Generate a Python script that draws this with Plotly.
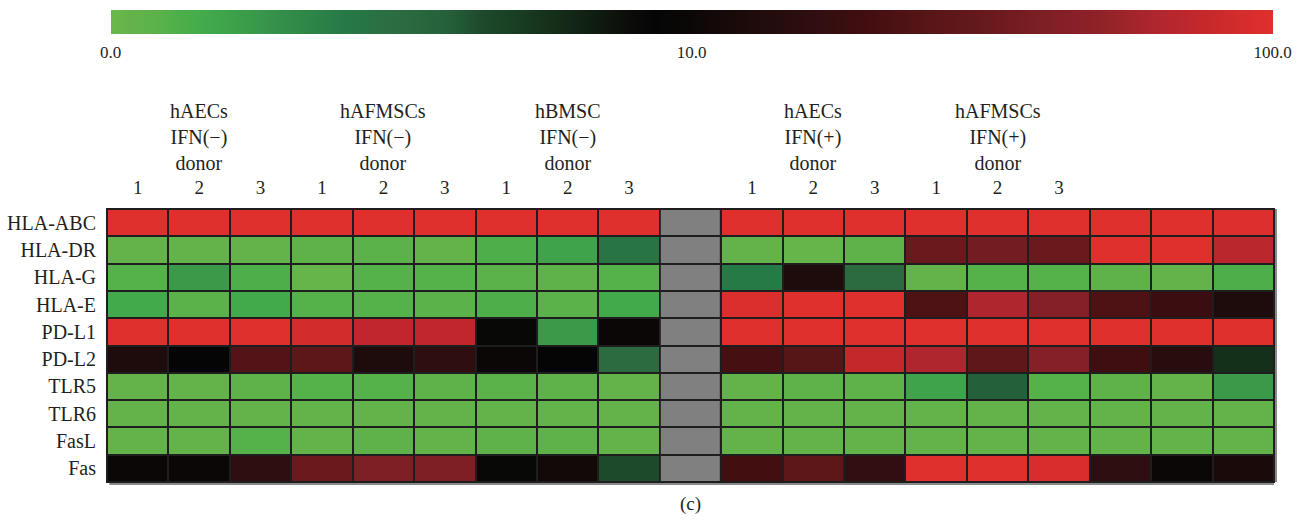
import numpy as np
import plotly.graph_objects as go

# Markers (rows, top to bottom)
genes = ["HLA-ABC", "HLA-DR", "HLA-G", "HLA-E", "PD-L1",
         "PD-L2", "TLR5", "TLR6", "FasL", "Fas"]

# Donor labels for each column block
donors = ["1", "2", "3"]

# Expression levels, IFN(-) block: hAECs 1-3, hAFMSCs 1-3, hBMSC 1-3
ifn_neg = [
    [100, 100, 100, 100, 100, 100, 100, 100, 100],        # HLA-ABC
    [1.10, 1.10, 1.10, 1.15, 1.20, 1.10, 1.32, 1.58, 2.75],  # HLA-DR
    [1.25, 1.74, 1.32, 1.05, 1.25, 1.25, 1.20, 1.15, 1.25],  # HLA-G
    [1.45, 1.20, 1.45, 1.25, 1.25, 1.20, 1.30, 1.20, 1.45],  # HLA-E
    [100, 100, 100, 87.1, 72.4, 72.4, 8.3, 1.74, 10.0],      # PD-L1
    [12.6, 8.7, 24.0, 27.5, 12.6, 15.8, 10.0, 8.7, 3.16],    # PD-L2
    [1.10, 1.10, 1.15, 1.25, 1.25, 1.15, 1.20, 1.15, 1.10],  # TLR5
    [1.10, 1.10, 1.10, 1.12, 1.12, 1.10, 1.12, 1.12, 1.10],  # TLR6
    [1.10, 1.10, 1.25, 1.10, 1.15, 1.10, 1.15, 1.15, 1.10],  # FasL
    [10.0, 10.0, 15.8, 33.1, 39.8, 39.8, 8.3, 11.0, 4.37],   # Fas
]

# Expression levels, IFN(+) block: hAECs 1-3, hAFMSCs 1-3, hBMSC 1-3
ifn_pos = [
    [100, 100, 100, 100, 100, 100, 100, 100, 97],            # HLA-ABC
    [1.10, 1.05, 1.15, 33.1, 36.3, 33.1, 100, 100, 69.2],    # HLA-DR
    [2.51, 12.6, 3.16, 1.10, 1.25, 1.25, 1.15, 1.10, 1.32],  # HLA-G
    [95.5, 100, 100, 22.9, 63.1, 43.7, 22.9, 18.2, 12.6],    # HLA-E
    [100, 100, 100, 100, 100, 100, 100, 100, 100],           # PD-L1
    [20.9, 25.1, 75.9, 63.1, 28.8, 43.7, 19.1, 14.5, 5.75],  # PD-L2
    [1.10, 1.15, 1.15, 1.58, 3.80, 1.25, 1.15, 1.10, 1.74],  # TLR5
    [1.12, 1.10, 1.10, 1.12, 1.10, 1.12, 1.12, 1.10, 1.10],  # TLR6
    [1.10, 1.12, 1.10, 1.12, 1.10, 1.12, 1.12, 1.10, 1.10],  # FasL
    [19.95, 27.5, 16.6, 100, 100, 91.2, 15.8, 10.0, 12.0],   # Fas
]

# Group headers over the donor columns
group_names = ["hAECs<br>IFN(\u2212)<br>donor", "hAFMSCs<br>IFN(\u2212)<br>donor",
               "hBMSC<br>IFN(\u2212)<br>donor", "hAECs<br>IFN(+)<br>donor",
               "hAFMSCs<br>IFN(+)<br>donor"]

# Colour bar labels (log scale)
scale_ticks = [1, 10, 100]
scale_labels = ["0.0", "10.0", "100.0"]

# ---------------------------------------------------------------------------
n_rows = len(genes)
n_neg = len(ifn_neg[0])
n_pos = len(ifn_pos[0])
sep_col = n_neg                       # grey spacer column
cols = list(range(n_neg + 1 + n_pos))

z = []
for rn, rp in zip(ifn_neg, ifn_pos):
    row = [np.log10(v) for v in rn] + [None] + [np.log10(v) for v in rp]
    z.append(row)

colorscale = [
    [0.00, "#6ab84a"], [0.02, "#63b34a"], [0.04, "#5cb24a"], [0.06, "#4caf4a"],
    [0.08, "#43aa4c"], [0.10, "#3ea34b"], [0.12, "#3a9a4a"], [0.20, "#267a46"],
    [0.25, "#2c6b40"], [0.29, "#24603a"], [0.32, "#1d4a2b"], [0.38, "#14301a"],
    [0.45, "#0a0a08"], [0.47, "#060505"], [0.50, "#0c0707"], [0.55, "#1e0b0b"],
    [0.60, "#2e0e10"], [0.65, "#420e10"], [0.70, "#561517"], [0.76, "#6a1a1d"],
    [0.80, "#7d1f25"], [0.85, "#8e2228"], [0.90, "#b0262e"], [0.94, "#c4282b"],
    [1.00, "#e0302d"],
]

font_family = "Liberation Serif"
text_color = "#231f20"

# colour-bar tick positions; the top one is nudged inside the bar range
cb_tickvals = [np.log10(t) for t in scale_ticks]
cb_tickvals[-1] -= 1e-6

fig = go.Figure()

fig.add_trace(go.Heatmap(
    z=z, x=cols, y=genes,
    zmin=0, zmax=2,
    colorscale=colorscale,
    xgap=2, ygap=2,
    hoverongaps=False,
    colorbar=dict(
        orientation="h",
        xref="container", yref="container",
        x=774 / 1306, xanchor="center",
        y=1 - 10 / 525, yanchor="top",
        lenmode="pixels", len=1162,
        thickness=24,
        xpad=0, ypad=0,
        outlinewidth=0,
        ticks="outside", ticklen=4, tickcolor="rgba(0,0,0,0)",
        ticklabeloverflow="allow",
        tickvals=cb_tickvals,
        ticktext=scale_labels,
        tickfont=dict(family=font_family, size=17, color=text_color),
    ),
))

# grey spacer column between the two treatment blocks
fig.add_trace(go.Heatmap(
    z=[[0] for _ in genes], x=[sep_col], y=genes,
    colorscale=[[0, "#808080"], [1, "#808080"]],
    showscale=False, xgap=2, ygap=2, hoverinfo="skip",
))

# donor numbers above each labelled column
labelled_cols = list(range(0, n_neg)) + list(range(n_neg + 1, n_neg + 1 + 6))
labelled_text = donors * (len(labelled_cols) // 3)

fig.update_xaxes(
    side="top", range=[-0.5, len(cols) - 0.5],
    tickvals=labelled_cols, ticktext=labelled_text,
    ticks="outside", ticklen=6, tickcolor="rgba(0,0,0,0)",
    tickfont=dict(family=font_family, size=19, color=text_color),
    showgrid=False, zeroline=False, showline=False, automargin=False,
)
fig.update_yaxes(
    autorange="reversed",
    ticks="outside", ticklen=6, tickcolor="rgba(0,0,0,0)",
    tickfont=dict(family=font_family, size=20, color=text_color),
    showgrid=False, zeroline=False, showline=False, automargin=False,
)

group_centres = [1, 4, 7, n_neg + 2, n_neg + 5]
for xc, name in zip(group_centres, group_names):
    fig.add_annotation(
        x=xc, y=1, xref="x", yref="paper",
        text=name, showarrow=False,
        yanchor="bottom", yshift=33,
        font=dict(family=font_family, size=20, color=text_color),
    )

fig.add_annotation(
    x=0.5, y=0, xref="paper", yref="paper", text="(c)", showarrow=False,
    yanchor="top", yshift=-9,
    font=dict(family=font_family, size=19, color=text_color),
)

# outer frame and soft shadow on the right/bottom edges
fig.add_shape(type="rect", xref="paper", yref="paper", x0=0, x1=1, y0=0, y1=1,
              line=dict(color="#1e1e1e", width=2), layer="above")
fig.add_shape(type="line", xref="paper", yref="paper", ysizemode="pixel",
              yanchor=0, x0=0.002, x1=1, y0=-2, y1=-2,
              line=dict(color="#8a8a8a", width=2), layer="above")
fig.add_shape(type="line", xref="paper", yref="paper", xsizemode="pixel",
              xanchor=1, x0=2, x1=2, y0=0, y1=1,
              line=dict(color="#8a8a8a", width=2), layer="above")

fig.update_layout(
    width=1306, height=525,
    margin=dict(l=107, r=32, t=209, b=43, autoexpand=False),
    plot_bgcolor="#1e1e1e", paper_bgcolor="white",
    showlegend=False,
)

fig.write_html("out.html")
